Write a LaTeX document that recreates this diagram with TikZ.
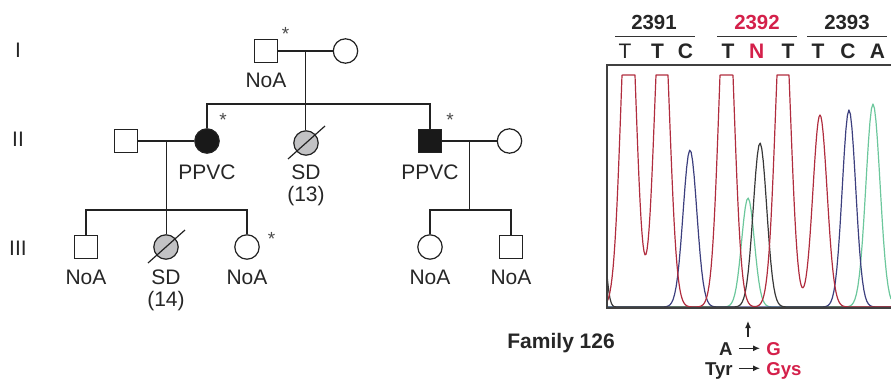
\documentclass[tikz,border=0pt]{standalone}
\usepackage{fontspec}
\setmainfont{Liberation Sans}
\usepackage{tikz}
\usetikzlibrary{arrows.meta,calc}

\definecolor{pedline}{HTML}{222222}
\definecolor{sdgray}{HTML}{C2C2C4}
\definecolor{codonred}{HTML}{D4204A}
\definecolor{tracered}{HTML}{B02C3E}
\definecolor{traceblue}{HTML}{3C3F7E}
\definecolor{traceblack}{HTML}{383838}
\definecolor{tracegreen}{HTML}{6CC79C}

% one chromatogram peak: centre, height, width (pixels)
\newcommand{\pk}[3]{(#2)*exp(-((\x-#1)/#3)*((\x-#1)/#3))}

\tikzset{
  male/.style={draw=pedline, rectangle, minimum size=11.6pt, inner sep=0pt, line width=0.6pt},
  female/.style={draw=pedline, circle, minimum size=12.2pt, inner sep=0pt, line width=0.6pt},
  affected/.style={fill=black!90},
  deceased/.style={fill=sdgray},
  ped/.style={draw=pedline, line width=0.6pt},
  tag/.style={font=\fontsize{10.5}{12}\selectfont, inner sep=0pt, anchor=base, text=black!85},
  star/.style={font=\fontsize{9.5}{10}\selectfont, inner sep=0pt, anchor=north, text=black!70},
  hdr/.style={font=\bfseries\fontsize{10.2}{12}\selectfont, inner sep=0pt, anchor=base},
  nucl/.style={font=\bfseries\fontsize{10.5}{12}\selectfont, inner sep=0pt, anchor=base},
  mut/.style={font=\bfseries\fontsize{9.3}{11}\selectfont, inner sep=3pt, text height=6.7pt, text depth=0pt},
  trace/.style={line width=0.6pt, line join=round},
  arr/.style={draw=black!85, line width=0.6pt, -{Latex[length=3.5pt,width=3pt]}}
}

\begin{document}
\begin{tikzpicture}[x=0.5pt, y=-0.5pt]
  \useasboundingbox (0,0) rectangle (891,380);

  % Generation labels
  \node[tag] (g1) at (18,57) {I};
  \node[tag] (g2) at (18,147) {II};
  \node[tag] (g3) at (18,255) {III};

  % Generation I
  \node[male] (i1) at (266,51) {};
  \node[female] (i2) at (345.5,51) {};
  \node[star] (i1s) at (285.5,27) {*};
  \node[tag] (i1t) at (266,87) {NoA};
  \draw[ped] (i1) -- (i2);
  \coordinate (m1) at ($(i1.east)!0.5!(i2.west)$);
  \coordinate (s1) at ($(m1)+(0,53)$);

  % Generation II
  \node[male] (ii1) at (126,141) {};
  \node[female, affected] (ii2) at (207,141) {};
  \node[female, deceased] (ii3) at (306,143) {};
  \node[male, affected] (ii4) at (430,141) {};
  \node[female] (ii5) at (509.5,141) {};
  \node[star] (ii2s) at (223,113) {*};
  \node[star] (ii4s) at (450,113) {*};
  \draw[ped] ($(ii3)+(-18,16)$) -- ($(ii3)+(19,-17)$);
  \node[tag] (ii2t) at (207,179) {PPVC};
  \node[tag] (ii3t) at (306,179) {SD};
  \node[tag] (ii3a) at (306,201) {(13)};
  \node[tag] (ii4t) at (430,179) {PPVC};
  \draw[ped] (m1) -- (m1 |- ii3.north);
  \draw[ped] (ii2.north) |- (s1) -| (ii4.north);
  \draw[ped] (ii1) -- (ii2);
  \draw[ped] (ii4) -- (ii5);
  \coordinate (m2) at ($(ii1.east)!0.5!(ii2.west)$);
  \coordinate (m3) at ($(ii4.east)!0.5!(ii5.west)$);
  \coordinate (s2) at ($(m2)+(0,69)$);
  \coordinate (s3) at ($(m3)+(0,69)$);

  % Generation III
  \node[male] (iii1) at (86,247) {};
  \node[female, deceased] (iii2) at (166,247) {};
  \node[female] (iii3) at (247,247) {};
  \node[female] (iii4) at (430,247) {};
  \node[male] (iii5) at (511,247) {};
  \node[star] (iii3s) at (271.5,232) {*};
  \draw[ped] ($(iii2)+(-18,16)$) -- ($(iii2)+(19,-17)$);
  \node[tag] (iii1t) at (86,285) {NoA};
  \node[tag] (iii2t) at (166,285) {SD};
  \node[tag] (iii2a) at (166,306) {(14)};
  \node[tag] (iii3t) at (247,285) {NoA};
  \node[tag] (iii4t) at (430,285) {NoA};
  \node[tag] (iii5t) at (511,285) {NoA};
  \draw[ped] (m2) -- (m2 |- iii2.north);
  \draw[ped] (iii1.north) |- (s2) -| (iii3.north);
  \draw[ped] (m3) -- (s3);
  \draw[ped] (iii4.north) |- (s3) -| (iii5.north);

  % Codon headers
  \foreach \num/\cx/\col in {2391/654/black!85, 2392/757/codonred, 2393/847/black!85}
    \node[hdr, text=\col] (n\num) at (\cx,29) {\num};
  \foreach \lx in {615,717,807}
    \draw[draw=black!80, line width=0.5pt] (\lx,36) -- ++(80,0);
  \node[nucl, font=\fontsize{10.5}{12}\selectfont, text=black!85] (nt0) at (625,58) {T};
  \foreach \b/\cx/\col [count=\k] in {T/657.5/black!85, C/685.5/black!85, T/728/black!85,
      N/756.7/codonred, T/788/black!85, T/818/black!85, C/848/black!85, A/877.5/black!85}
    \node[nucl, text=\col] (nt\k) at (\cx,58) {\b};

  % Chromatogram
  \begin{scope}
    \clip (607,60) rectangle (891,308);
    \draw[trace, tracegreen] plot[domain=607:891, samples=190]
      (\x, {307-(\pk{748}{109}{9}+\pk{873}{203}{10})});
    \draw[trace, traceblue] plot[domain=607:891, samples=190]
      (\x, {307-(\pk{690}{157}{9.7}+\pk{849}{197}{9.5})});
    \draw[trace, traceblack] plot[domain=607:891, samples=190]
      (\x, {307-(\pk{603}{60}{5}+\pk{760}{164}{9.5})});
    \draw[trace, tracered] plot[domain=607:891, samples=285]
      (\x, {307-min(232, \pk{628.5}{340}{10.5}+\pk{662}{322}{10.5}+\pk{726.5}{340}{10.5}+\pk{783}{322}{10.5}+\pk{820}{192}{10})});
  \end{scope}
  \draw[draw=black!75, line width=0.8pt] (891,65) -- (607,65) -- (607,308) -- (891,308);

  % Mutation
  \coordinate (snp) at (748,321);
  \coordinate (snpfoot) at (748,337);
  \draw[arr] (snpfoot) -- (snp);
  \node[mut, anchor=base east, text=black!85] (mutA) at (739,355) {A};
  \node[mut, anchor=base west, text=codonred] (mutG) at (760,355) {G};
  \node[mut, anchor=base east, text=black!85] (aaTyr) at (739,375) {Tyr};
  \node[mut, anchor=base west, text=codonred] (aaGys) at (760,375) {Gys};
  \draw[arr] (mutA) -- (mutG);
  \draw[arr] (aaTyr) -- (aaGys);
  \node[font=\bfseries\fontsize{10.5}{12}\selectfont, inner sep=0pt, anchor=base west, text=black!85] (fam) at (507,348) {Family 126};
\end{tikzpicture}
\end{document}
